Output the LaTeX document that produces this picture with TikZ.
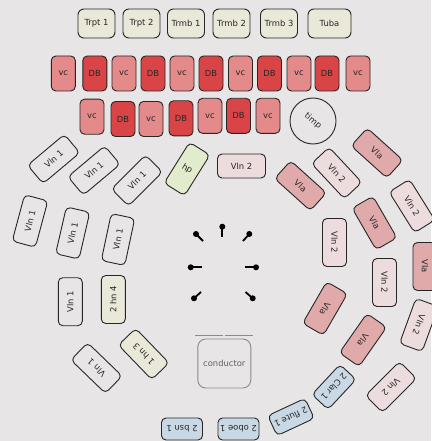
\documentclass[tikz,border=0pt]{standalone}
\usepackage{fontspec}
\setsansfont{DejaVu Sans}
\usetikzlibrary{calc}
\definecolor{ink}{HTML}{262626}
\definecolor{bg}{HTML}{E7E5E5}
\definecolor{brassfill}{HTML}{E9E8D9}
\definecolor{vcfill}{HTML}{E58A8B}
\definecolor{dbfill}{HTML}{D94547}
\definecolor{vlafill}{HTML}{E0A9AA}
\definecolor{vlntwofill}{HTML}{EDDCDD}
\definecolor{hpfill}{HTML}{E2EBCB}
\definecolor{windfill}{HTML}{C8D8E4}
\definecolor{condgray}{HTML}{8A8A8A}
\tikzset{
  every node/.style={font=\sffamily\fontsize{8.4}{9}\selectfont, text=ink},
  seat/.style={draw=ink, line width=0.9pt, rounded corners=4.5pt, inner sep=0pt},
  desk/.style={seat, minimum width=48pt, minimum height=24pt},
  upright/.style={seat, minimum width=24pt, minimum height=48pt},
  brass/.style={seat, fill=brassfill, minimum width=37pt, minimum height=29pt, rounded corners=6pt},
  bass/.style={seat, minimum width=24pt, minimum height=35pt},
  vccell/.style={bass, fill=vcfill},
  dbcell/.style={bass, fill=dbfill},
  vlnone/.style={desk},
  vlntwo/.style={desk, fill=vlntwofill},
  vla/.style={desk, fill=vlafill},
  horn/.style={desk, fill=brassfill},
  wind/.style={seat, fill=windfill, minimum width=41pt, minimum height=22pt},
  drum/.style={circle, draw=ink, line width=0.9pt, minimum size=46pt, inner sep=0pt},
  podium/.style={seat, draw=condgray, rounded corners=8pt, minimum width=53pt, minimum height=49pt, text=condgray!70!black},
  rail/.style={draw=condgray, line width=0.7pt},
  pinhead/.style={circle, fill=black, inner sep=0pt, minimum size=6pt},
  pinstem/.style={line width=1.8pt, draw=black},
}
\begin{document}
\begin{tikzpicture}[x=1pt, y=-1pt]
\fill[bg] (0,0) rectangle (431,441);
\useasboundingbox (0,0) rectangle (431,441);
% brass
\node[brass] (tp1) at (96.5,23.5) {Trpt 1};
\node[brass] (tp2) at (141.5,23.5) {Trpt 2};
\node[brass] (tb1) at (186,23.5) {Trmb 1};
\node[brass] (tb2) at (231.5,23.5) {Trmb 2};
\node[brass] (tb3) at (279,23.5) {Trmb 3};
\node[brass, minimum width=43pt] (tuba) at (329.5,23.5) {Tuba};
% cellos and basses
\foreach \x/\k/\t [count=\n] in {63.3/vccell/vc, 94.8/dbcell/DB, 124/vccell/vc, 153/dbcell/DB, 182/vccell/vc, 211/dbcell/DB, 240.5/vccell/vc, 269.5/dbcell/DB, 299/vccell/vc, 327/dbcell/DB, 358/vccell/vc}
  \node[\k] (ra\n) at (\x,73.5) {\t};
\foreach \x/\y/\k/\t [count=\n] in {92/116.7/vccell/vc, 123/119/dbcell/DB, 151/119/vccell/vc, 181/118.3/dbcell/DB, 210/115.8/vccell/vc, 238.5/115.8/dbcell/DB, 268/115.8/vccell/vc}
  \node[\k] (rb\n) at (\x,\y) {\t};
\node[drum] (timp) at (313,121) {\rotatebox{-40}{timp}};
% first violins, harp, horns
\node[vlnone, rotate=40] (va1) at (53.7,159) {Vln 1};
\node[vlnone, rotate=40] (va2) at (94,170.5) {Vln 1};
\node[vlnone, rotate=45] (va3) at (137,180.5) {Vln 1};
\node[vlnone, rotate=75] (va4) at (30,221) {Vln 1};
\node[vlnone, rotate=77] (va5) at (72.7,233) {Vln 1};
\node[vlnone, rotate=78] (va6) at (118,239.5) {Vln 1};
\node[vlnone, rotate=90] (va7) at (70.3,301.7) {Vln 1};
\node[vlnone, rotate=136] (va8) at (96.5,368) {Vln 1};
\node[upright, fill=hpfill, rotate=-32] (hp) at (187,169) {hp};
\node[horn, rotate=90] (hn24) at (113.3,299.5) {2 hn 4};
\node[horn, rotate=134] (hn13) at (143.7,354) {1 hn 3};
% second violins and violas
\node[vlntwo] (vb1) at (241.5,166) {Vln 2};
\node[vla, rotate=-42] (vl1) at (300.5,185.7) {Vla};
\node[vlntwo, rotate=-47] (vb2) at (336.7,173) {Vln 2};
\node[vla, rotate=-42] (vl2) at (377,153) {Vla};
\node[vlntwo, rotate=-58] (vb3) at (412,206) {Vln 2};
\node[vla, rotate=-60] (vl3) at (374.5,223) {Vla};
\node[vlntwo, rotate=-90] (vb4) at (334.5,242.5) {Vln 2};
\node[vlntwo, rotate=-90] (vb5) at (384.5,282.5) {Vln 2};
\node[vla, rotate=-90] (vl4) at (425,266.5) {Vla};
\node[vlntwo, rotate=-110] (vb6) at (419,325) {Vln 2};
\node[vla, rotate=-120] (vl5) at (325,308.5) {Vla};
\node[vla, rotate=-125] (vl6) at (363,340) {Vla};
\node[vlntwo, rotate=-135] (vb7) at (391,387) {Vln 2};
% woodwinds
\node[wind, rotate=-133] (clar) at (334,387) {2 Clar 1};
\node[wind, rotate=-155] (flute) at (291,417) {2 flute 1};
\node[wind, rotate=180] (oboe) at (238.5,429) {2 oboe 1};
\node[wind, rotate=180] (bsn) at (182,429) {2 bsn 1};
% conductor
\node[podium] (cond) at (224.3,363.5) {conductor};
\coordinate (rl1) at (195,335); \coordinate (rl2) at (223,335);
\coordinate (rr1) at (225,335); \coordinate (rr2) at (252.5,335);
\draw[rail] (rl1) -- (rl2); \draw[rail] (rr1) -- (rr2);
% pins round the podium
\foreach \hx/\hy/\ex/\ey [count=\n] in {222.3/226.7/222.3/236.5, 196/234/203/241, 249.3/234/243/241, 190.7/267.3/201.5/267.3, 256/267.3/244.5/267.3, 194/298.3/201/292, 252.7/298.3/245.5/292}{
  \node[pinhead] (pin\n) at (\hx,\hy) {};
  \coordinate (pe\n) at (\ex,\ey);
  \draw[pinstem] (pin\n.center) -- (pe\n);
}
\end{tikzpicture}
\end{document}
